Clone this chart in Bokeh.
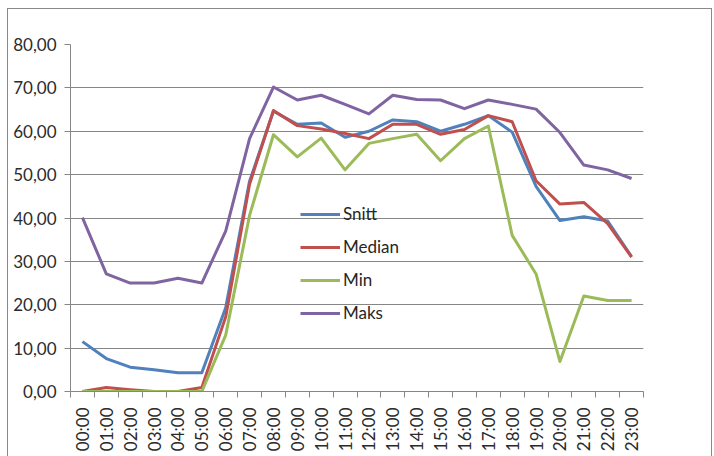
import math
from bokeh.plotting import figure
from bokeh.models import Range1d, FixedTicker, CustomJSTickFormatter, Legend, LegendItem
from bokeh.embed import file_html
from bokeh.resources import INLINE

hours = ["00:00", "01:00", "02:00", "03:00", "04:00", "05:00", "06:00", "07:00",
         "08:00", "09:00", "10:00", "11:00", "12:00", "13:00", "14:00", "15:00",
         "16:00", "17:00", "18:00", "19:00", "20:00", "21:00", "22:00", "23:00"]
snitt = [11.5, 7.6, 5.6, 5.0, 4.3, 4.3, 19.3, 48.5, 64.6, 61.6, 61.9, 58.6,
         60.0, 62.6, 62.2, 60.0, 61.6, 63.6, 59.8, 47.3, 39.4, 40.3, 39.3, 31.1]
median = [0.0, 0.9, 0.4, 0.0, 0.0, 0.9, 17.2, 47.8, 64.8, 61.3, 60.5, 59.5,
          58.3, 61.6, 61.6, 59.3, 60.4, 63.6, 62.2, 48.6, 43.2, 43.6, 38.7, 31.0]
minimum = [0.0, 0.0, 0.0, 0.0, 0.0, 0.0, 13.0, 40.6, 59.2, 54.1, 58.4, 51.1,
           57.2, 58.3, 59.3, 53.2, 58.3, 61.2, 36.0, 27.1, 6.9, 22.0, 21.0, 21.0]
maks = [40.1, 27.1, 25.0, 25.0, 26.1, 25.0, 37.0, 58.3, 70.2, 67.2, 68.3, 66.2,
        64.0, 68.3, 67.3, 67.2, 65.2, 67.2, 66.2, 65.1, 59.7, 52.2, 51.1, 49.1]
y_ticks = [0, 10, 20, 30, 40, 50, 60, 70, 80]

series = [("Snitt", snitt, "#4F81BD"), ("Median", median, "#C0504D"),
          ("Min", minimum, "#9BBB59"), ("Maks", maks, "#8064A2")]

idx = list(range(len(hours)))

p = figure(width=705, height=448, output_backend="svg", toolbar_location=None,
           x_range=Range1d(-0.5, len(hours) - 0.5), y_range=Range1d(0, 80),
           min_border_left=62, min_border_right=70, min_border_top=35, min_border_bottom=66)
p.outline_line_color = None
p.background_fill_color = "white"
p.border_fill_color = "white"
p.styles = {"margin-left": "7px", "margin-top": "8px",
            "border-left": "1px solid #8a8a8a", "border-top": "1px solid #8a8a8a",
            "border-right": "1px solid #8a8a8a"}

grid_col = "#868686"
p.xgrid.visible = False
p.ygrid.ticker = FixedTicker(ticks=y_ticks)
p.ygrid.grid_line_color = grid_col
p.ygrid.grid_line_width = 1

ya = p.yaxis[0]
ya.ticker = FixedTicker(ticks=y_ticks)
ya.formatter = CustomJSTickFormatter(code="return tick.toFixed(2).replace('.', ',');")
ya.axis_line_color = grid_col
ya.major_tick_line_color = grid_col
ya.major_tick_out = 6
ya.major_tick_in = 0
ya.minor_tick_line_color = None
ya.major_label_text_font = "Lato"
ya.major_label_text_font_size = "17px"
ya.major_label_text_color = "#2b2b2b"
ya.major_label_standoff = 8

xa = p.xaxis[0]
xa.ticker = FixedTicker(ticks=idx, minor_ticks=[i - 0.5 for i in range(len(hours) + 1)])
xa.major_label_overrides = {i: h for i, h in enumerate(hours)}
xa.major_label_orientation = math.pi / 2
xa.axis_line_color = grid_col
xa.major_tick_line_color = None
xa.major_tick_out = 0
xa.major_tick_in = 0
xa.minor_tick_line_color = grid_col
xa.minor_tick_out = 6
xa.minor_tick_in = 0
xa.major_label_text_font = "Lato"
xa.major_label_text_font_size = "17px"
xa.major_label_text_color = "#2b2b2b"
xa.major_label_standoff = 10

items = []
for name, vals, col in series:
    r = p.line(idx, vals, line_color=col, line_width=3, line_join="round")
    items.append(LegendItem(label=name, renderers=[r]))

legend = Legend(items=items, location=(230, 68), orientation="vertical",
                border_line_color=None, background_fill_alpha=0,
                padding=0, margin=0, spacing=12, glyph_width=40, glyph_height=20,
                label_height=20, label_standoff=3,
                label_text_font="Lato", label_text_font_size="17px",
                label_text_color="#262626")
p.add_layout(legend)

open("out.html", "w").write(file_html(p, INLINE))
